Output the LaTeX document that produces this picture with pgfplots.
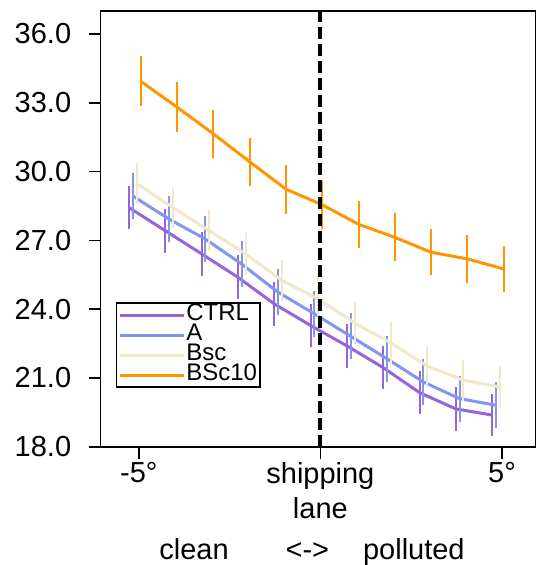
\documentclass[border=0pt]{standalone}
\usepackage{pgfplots}
\pgfplotsset{compat=1.18}
\usepackage{pgfplotstable}
\usepackage{fontspec}
\setmainfont{Liberation Sans}
\definecolor{cctrl}{RGB}{150,100,220}
\definecolor{ca}{RGB}{130,150,240}
\definecolor{cbsc}{RGB}{240,232,200}
\definecolor{cbsc10}{RGB}{255,150,0}

\pgfplotstableread{
x y e
-5.27 28.43 0.95
-4.27 27.42 0.95
-3.27 26.41 0.95
-2.27 25.39 0.95
-1.27 24.23 0.95
-0.27 23.29 0.95
0.73 22.40 0.95
1.73 21.45 0.95
2.73 20.36 0.95
3.73 19.65 0.95
4.73 19.38 0.9
}\ctrl
\pgfplotstableread{
x y e
-5.17 28.94 1.0
-4.17 27.93 1.0
-3.17 27.06 1.0
-2.17 25.97 1.0
-1.17 24.74 1.0
-0.17 23.80 1.0
0.83 22.82 1.0
1.83 21.84 1.0
2.83 20.83 1.0
3.83 20.10 1.0
4.83 19.81 1.0
}\aa
\pgfplotstableread{
x y e
-5.06 29.48 0.9
-4.06 28.43 0.9
-3.06 27.42 0.9
-2.06 26.41 0.9
-1.06 25.25 0.9
-0.06 24.45 0.9
0.94 23.40 0.9
1.94 22.53 0.9
2.94 21.52 0.9
3.94 20.90 0.9
4.94 20.61 0.9
}\bsc
\pgfplotstableread{
x y e
-4.95 33.94 1.1
-3.95 32.81 1.1
-2.95 31.65 1.05
-1.95 30.43 1.05
-0.95 29.23 1.07
0.05 28.55 1.05
1.05 27.70 1.02
2.05 27.13 1.05
3.05 26.48 1.0
4.05 26.19 1.03
5.05 25.75 1.02
}\bscten

\begin{document}
\begin{tikzpicture}
\begin{axis}[
  scale only axis, width=435pt, height=436pt,
  xmin=-6.05, xmax=5.92, ymin=18, ymax=37,
  axis line style={line width=1.6pt},
  every tick/.style={line width=1.6pt, black},
  major tick length=12pt, tick align=outside,
  xtick pos=bottom, ytick pos=left,
  xtick={-5,0,5}, xticklabels={-5°, shipping\\[5pt]lane, 5°},
  ytick={18,21,24,27,30,33,36},
  yticklabels={18.0,21.0,24.0,27.0,30.0,33.0,36.0},
  ticklabel style={font=\fontsize{29}{30}\selectfont},
  xticklabel style={align=center},
  yticklabel style={xshift=-14pt},
  xlabel={clean\hspace*{57pt}<->\hspace*{34pt}polluted},
  xlabel style={font=\fontsize{29}{30}\selectfont, xshift=-6pt, yshift=-13pt},
  legend cell align=left,
  legend style={at={(0.0345,0.135)}, anchor=south west, draw=black, line width=1.5pt,
    font=\fontsize{24}{24}\selectfont, inner sep=2pt,
    nodes={inner sep=1pt, text height=14pt, text depth=4pt}},
  legend image code/.code={\draw[#1, line width=3pt] (0pt,0pt) -- (64pt,0pt);},
  every axis plot/.append style={line width=3pt, line join=round},
  error bars/y dir=both, error bars/y explicit,
  error bars/error mark=none,
]
\addplot[cctrl, error bars/error bar style={line width=2pt, solid, draw=cctrl}] table[x=x, y=y, y error=e] {\ctrl};
\addlegendentry{CTRL}
\addplot[ca, error bars/error bar style={line width=2pt, solid, draw=ca}] table[x=x, y=y, y error=e] {\aa};
\addlegendentry{A}
\addplot[cbsc, error bars/error bar style={line width=2pt, solid, draw=cbsc}] table[x=x, y=y, y error=e] {\bsc};
\addlegendentry{Bsc}
\addplot[cbsc10, error bars/error bar style={line width=2pt, solid, draw=cbsc10}] table[x=x, y=y, y error=e] {\bscten};
\addlegendentry{BSc10}
\addplot[black, line width=4pt, dash pattern=on 12pt off 5pt, forget plot, error bars/y dir=none] coordinates {(0,18) (0,37)};
\end{axis}
\pgfresetboundingbox
\path[use as bounding box] ([shift={(-100.7pt,-118.3pt)}]current axis.south west) rectangle ([shift={(2pt,11pt)}]current axis.north east);
\end{tikzpicture}
\end{document}
